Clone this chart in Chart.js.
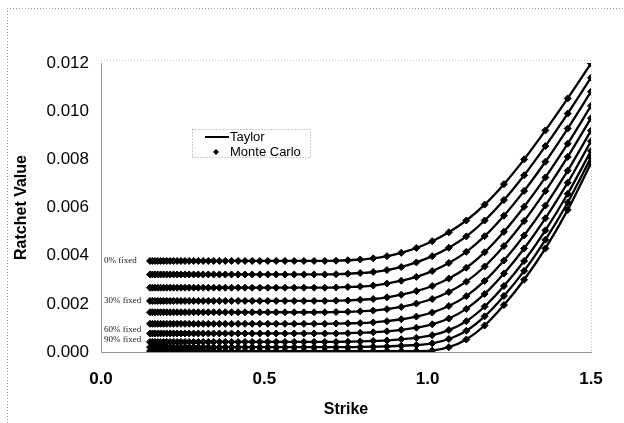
<!DOCTYPE html>
<html>
<head>
<meta charset="utf-8">
<script src="https://cdn.jsdelivr.net/npm/chart.js@4.4.0/dist/chart.umd.min.js"></script>
<style>
  html, body { margin: 0; padding: 0; background: #fff; }
  #wrap { width: 624px; height: 423px; }
</style>
</head>
<body>
<div id="wrap"><canvas id="chart" width="624" height="423"></canvas></div>
<script>
const strikes = [
  0.1500, 0.1575, 0.1654, 0.1737, 0.1825, 0.1916, 0.2013, 0.2114,
  0.2220, 0.2331, 0.2448, 0.2571, 0.2700, 0.2836, 0.2978, 0.3128,
  0.3285, 0.3450, 0.3623, 0.3805, 0.3996, 0.4197, 0.4408, 0.4629,
  0.4861, 0.5106, 0.5362, 0.5631, 0.5914, 0.6211, 0.6523, 0.6851,
  0.7195, 0.7556, 0.7935, 0.8334, 0.8753, 0.9192, 0.9654, 1.0139,
  1.0648, 1.1183, 1.1744, 1.2334, 1.2953, 1.3604, 1.4287, 1.5000
];

// ratchet value, one array per fixed percentage
const fixed0 = [
  0.00378, 0.00378, 0.00378, 0.00378, 0.00378, 0.00378, 0.00378, 0.00378,
  0.00378, 0.00378, 0.00378, 0.00378, 0.00378, 0.00378, 0.00378, 0.00378,
  0.00378, 0.00378, 0.00378, 0.00378, 0.00378, 0.00378, 0.00378, 0.00378,
  0.00378, 0.00378, 0.00378, 0.00378, 0.00378, 0.00378, 0.00378, 0.00378,
  0.00379, 0.00381, 0.00384, 0.00389, 0.00398, 0.00412, 0.00432, 0.00460,
  0.00497, 0.00546, 0.00612, 0.00697, 0.00800, 0.00920, 0.01053, 0.01198
];
const fixed10 = [
  0.00322, 0.00322, 0.00322, 0.00322, 0.00322, 0.00322, 0.00322, 0.00322,
  0.00322, 0.00322, 0.00322, 0.00322, 0.00322, 0.00322, 0.00322, 0.00322,
  0.00322, 0.00322, 0.00322, 0.00322, 0.00322, 0.00322, 0.00322, 0.00322,
  0.00322, 0.00322, 0.00322, 0.00322, 0.00322, 0.00322, 0.00322, 0.00322,
  0.00323, 0.00325, 0.00328, 0.00332, 0.00340, 0.00353, 0.00372, 0.00398,
  0.00433, 0.00480, 0.00546, 0.00631, 0.00734, 0.00855, 0.00990, 0.01139
];
const fixed20 = [
  0.00267, 0.00267, 0.00267, 0.00267, 0.00267, 0.00267, 0.00267, 0.00267,
  0.00267, 0.00267, 0.00267, 0.00267, 0.00267, 0.00267, 0.00267, 0.00267,
  0.00267, 0.00267, 0.00267, 0.00267, 0.00267, 0.00267, 0.00267, 0.00267,
  0.00267, 0.00267, 0.00267, 0.00267, 0.00267, 0.00267, 0.00267, 0.00267,
  0.00268, 0.00270, 0.00272, 0.00276, 0.00284, 0.00296, 0.00312, 0.00336,
  0.00370, 0.00416, 0.00481, 0.00566, 0.00669, 0.00790, 0.00928, 0.01081
];
const fixed30 = [
  0.00212, 0.00212, 0.00212, 0.00212, 0.00212, 0.00212, 0.00212, 0.00212,
  0.00212, 0.00212, 0.00212, 0.00212, 0.00212, 0.00212, 0.00212, 0.00212,
  0.00212, 0.00212, 0.00212, 0.00212, 0.00212, 0.00212, 0.00212, 0.00212,
  0.00212, 0.00212, 0.00212, 0.00212, 0.00212, 0.00212, 0.00212, 0.00212,
  0.00213, 0.00214, 0.00217, 0.00220, 0.00227, 0.00238, 0.00253, 0.00274,
  0.00305, 0.00350, 0.00414, 0.00499, 0.00603, 0.00725, 0.00865, 0.01022
];
const fixed40 = [
  0.00165, 0.00165, 0.00165, 0.00165, 0.00165, 0.00165, 0.00165, 0.00165,
  0.00165, 0.00165, 0.00165, 0.00165, 0.00165, 0.00165, 0.00165, 0.00165,
  0.00165, 0.00165, 0.00165, 0.00165, 0.00165, 0.00165, 0.00165, 0.00165,
  0.00165, 0.00165, 0.00165, 0.00165, 0.00165, 0.00165, 0.00165, 0.00165,
  0.00166, 0.00167, 0.00169, 0.00172, 0.00178, 0.00187, 0.00201, 0.00220,
  0.00249, 0.00292, 0.00355, 0.00440, 0.00544, 0.00668, 0.00810, 0.00971
];
const fixed50 = [
  0.00117, 0.00117, 0.00117, 0.00117, 0.00117, 0.00117, 0.00117, 0.00117,
  0.00117, 0.00117, 0.00117, 0.00117, 0.00117, 0.00117, 0.00117, 0.00117,
  0.00117, 0.00117, 0.00117, 0.00117, 0.00117, 0.00117, 0.00117, 0.00117,
  0.00117, 0.00117, 0.00117, 0.00117, 0.00117, 0.00117, 0.00117, 0.00117,
  0.00118, 0.00119, 0.00120, 0.00123, 0.00128, 0.00136, 0.00147, 0.00164,
  0.00191, 0.00232, 0.00295, 0.00380, 0.00484, 0.00608, 0.00753, 0.00919
];
const fixed60 = [
  0.00077, 0.00077, 0.00077, 0.00077, 0.00077, 0.00077, 0.00077, 0.00077,
  0.00077, 0.00077, 0.00077, 0.00077, 0.00077, 0.00077, 0.00077, 0.00077,
  0.00077, 0.00077, 0.00077, 0.00077, 0.00077, 0.00077, 0.00077, 0.00077,
  0.00077, 0.00077, 0.00077, 0.00077, 0.00077, 0.00077, 0.00077, 0.00077,
  0.00077, 0.00078, 0.00080, 0.00082, 0.00086, 0.00092, 0.00101, 0.00115,
  0.00139, 0.00179, 0.00241, 0.00326, 0.00430, 0.00555, 0.00703, 0.00875
];
const fixed70 = [
  0.00042, 0.00042, 0.00042, 0.00042, 0.00042, 0.00042, 0.00042, 0.00042,
  0.00042, 0.00042, 0.00042, 0.00042, 0.00042, 0.00042, 0.00042, 0.00042,
  0.00042, 0.00042, 0.00042, 0.00042, 0.00042, 0.00042, 0.00042, 0.00042,
  0.00042, 0.00042, 0.00042, 0.00042, 0.00042, 0.00042, 0.00042, 0.00042,
  0.00042, 0.00043, 0.00044, 0.00046, 0.00048, 0.00053, 0.00059, 0.00070,
  0.00091, 0.00128, 0.00189, 0.00274, 0.00378, 0.00505, 0.00657, 0.00835
];
const fixed80 = [
  0.00020, 0.00020, 0.00020, 0.00020, 0.00020, 0.00020, 0.00020, 0.00020,
  0.00020, 0.00020, 0.00020, 0.00020, 0.00020, 0.00020, 0.00020, 0.00020,
  0.00020, 0.00020, 0.00020, 0.00020, 0.00020, 0.00020, 0.00020, 0.00020,
  0.00020, 0.00020, 0.00020, 0.00020, 0.00020, 0.00020, 0.00020, 0.00020,
  0.00020, 0.00020, 0.00021, 0.00022, 0.00023, 0.00026, 0.00029, 0.00036,
  0.00054, 0.00088, 0.00148, 0.00233, 0.00337, 0.00466, 0.00621, 0.00807
];
const fixed90 = [
  0.00004, 0.00004, 0.00004, 0.00004, 0.00004, 0.00004, 0.00004, 0.00004,
  0.00004, 0.00004, 0.00004, 0.00004, 0.00004, 0.00004, 0.00004, 0.00004,
  0.00004, 0.00004, 0.00004, 0.00004, 0.00004, 0.00004, 0.00004, 0.00004,
  0.00004, 0.00004, 0.00004, 0.00004, 0.00004, 0.00004, 0.00004, 0.00004,
  0.00004, 0.00004, 0.00004, 0.00004, 0.00004, 0.00004, 0.00004, 0.00006,
  0.00020, 0.00052, 0.00110, 0.00195, 0.00300, 0.00430, 0.00590, 0.00784
];

const series = [fixed0, fixed10, fixed20, fixed30, fixed40, fixed50, fixed60, fixed70, fixed80, fixed90];
const fixedLabels = ['0% fixed', '30% fixed', '60% fixed', '90% fixed'];
const fixedLabelSeries = [0, 3, 6, 9];
const legendNames = ['Taylor', 'Monte Carlo'];
const xTicks = [0, 0.5, 1.0, 1.5];
const yTicks = [0, 0.002, 0.004, 0.006, 0.008, 0.010, 0.012];

const FONT = '"Liberation Sans", Arial, sans-serif';
const toPts = vals => strikes.map((x, k) => ({ x, y: vals[k] }));

const datasets = [];
series.forEach(vals => {
  datasets.push({
    label: legendNames[0], data: toPts(vals), showLine: true,
    borderColor: '#000', borderWidth: 2.3, pointRadius: 0,
    cubicInterpolationMode: 'monotone'
  });
  datasets.push({
    label: legendNames[1], data: toPts(vals), showLine: false,
    pointStyle: 'rectRot', pointRadius: 3.5, backgroundColor: '#000', borderColor: '#000', borderWidth: 1
  });
});

// dotted frame, series labels and the little boxed legend
const decor = {
  id: 'decor',
  beforeDraw(chart) {
    const ctx = chart.ctx;
    ctx.save();
    ctx.strokeStyle = '#9a9a9a';
    ctx.lineWidth = 1;
    ctx.setLineDash([1, 2]);
    ctx.beginPath();
    ctx.moveTo(7.5, 423); ctx.lineTo(7.5, 8.5); ctx.lineTo(624, 8.5);
    ctx.stroke();
    const a = chart.chartArea;
    ctx.strokeStyle = '#c8c8c8';
    ctx.beginPath();
    ctx.moveTo(a.left, a.top - 2.5); ctx.lineTo(a.right + 0.5, a.top - 2.5); ctx.lineTo(a.right + 0.5, a.bottom);
    ctx.stroke();
    ctx.restore();
  },
  afterDatasetsDraw(chart) {
    const { ctx, chartArea: a, scales: { y } } = chart;
    ctx.save();
    ctx.fillStyle = '#222';
    ctx.font = '9px "Liberation Serif", serif';
    ctx.textBaseline = 'middle';
    const shift = [0, 0, -4, -11];
    fixedLabelSeries.forEach((s, j) => {
      ctx.fillText(fixedLabels[j], a.left + 3, y.getPixelForValue(series[s][0]) + shift[j]);
    });

    ctx.strokeStyle = '#999';
    ctx.lineWidth = 1;
    ctx.setLineDash([1, 2]);
    ctx.strokeRect(192.5, 129.5, 118, 28);
    ctx.setLineDash([]);
    ctx.strokeStyle = '#000';
    ctx.lineWidth = 2;
    ctx.beginPath();
    ctx.moveTo(205, 137); ctx.lineTo(229, 137);
    ctx.stroke();
    ctx.fillStyle = '#000';
    ctx.beginPath();
    ctx.moveTo(216, 149); ctx.lineTo(219, 152); ctx.lineTo(216, 155); ctx.lineTo(213, 152);
    ctx.closePath();
    ctx.fill();
    ctx.font = '13px ' + FONT;
    ctx.fillText(legendNames[0], 230, 137);
    ctx.fillText(legendNames[1], 230, 152);
    ctx.restore();
  }
};

new Chart(document.getElementById('chart'), {
  type: 'scatter',
  data: { datasets },
  plugins: [decor],
  options: {
    responsive: false,
    animation: false,
    layout: { padding: { left: 8, top: 63, right: 33, bottom: 0 } },
    plugins: { legend: { display: false }, tooltip: { enabled: false } },
    scales: {
      x: {
        type: 'linear', min: 0, max: 1.5,
        afterBuildTicks: s => { s.ticks = xTicks.map(v => ({ value: v })); },
        afterFit: s => { s.height = 71; },
        grid: { display: false, drawTicks: false },
        border: { display: true, color: '#999', dash: [1, 2] },
        ticks: {
          padding: 17, color: '#000', font: { family: FONT, size: 17, weight: 'bold' },
          callback: v => v.toFixed(1)
        },
        title: { display: true, text: 'Strike', color: '#000', font: { family: FONT, size: 16, weight: 'bold' } }
      },
      y: {
        type: 'linear', min: 0, max: 0.012,
        afterBuildTicks: s => { s.ticks = yTicks.map(v => ({ value: v })); },
        afterFit: s => { s.width = 93; },
        grid: { display: false, drawTicks: false },
        border: { display: true, color: '#999', dash: [1, 2] },
        ticks: {
          padding: 12, color: '#000', font: { family: FONT, size: 17 },
          callback: v => v.toFixed(3)
        },
        title: { display: true, text: 'Ratchet Value', color: '#000', font: { family: FONT, size: 16, weight: 'bold' } }
      }
    }
  }
});
</script>
</body>
</html>
